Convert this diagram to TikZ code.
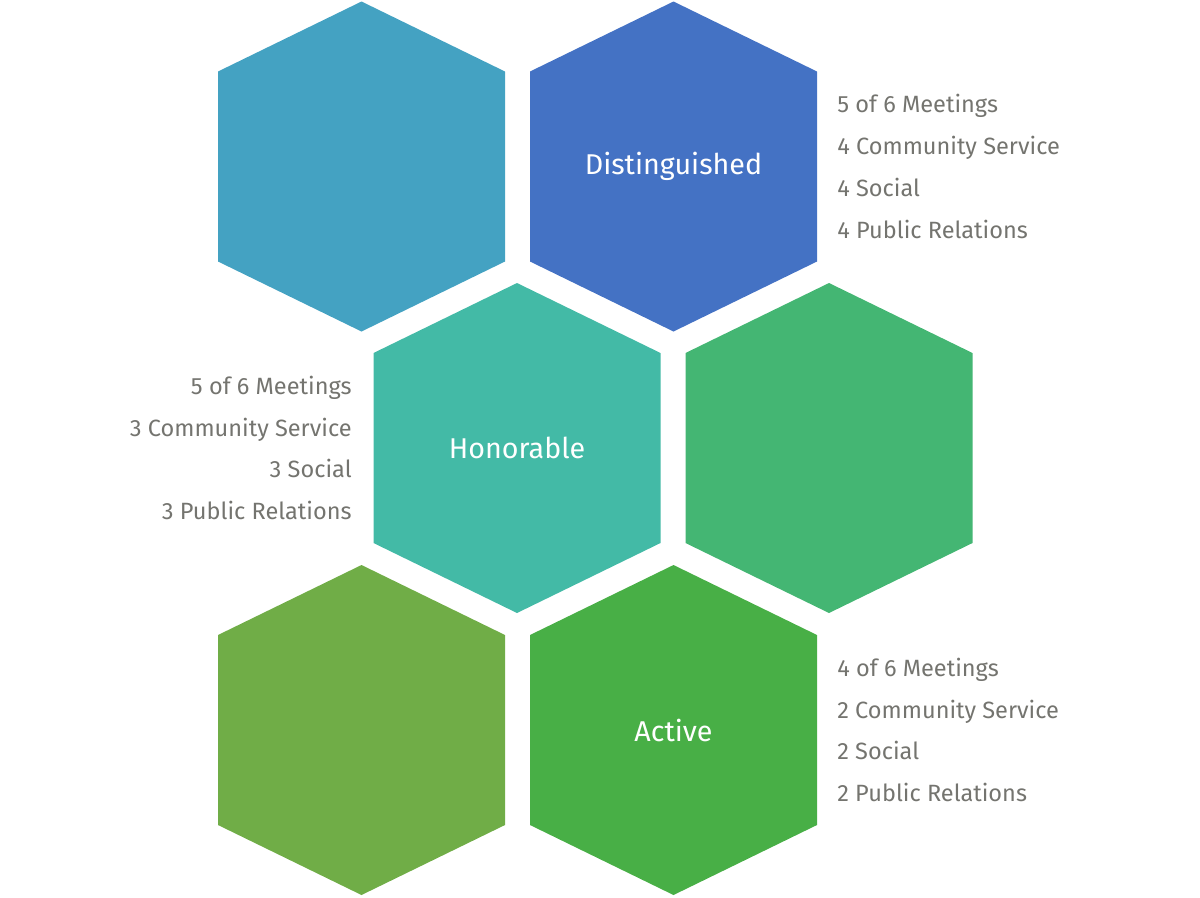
\documentclass[tikz,border=0pt]{standalone}
\usepackage{fontspec}
\setmainfont{Fira Sans}
\usetikzlibrary{calc}
\definecolor{hexteal}{HTML}{44A2C2}
\definecolor{hexblue}{HTML}{4472C4}
\definecolor{hexmint}{HTML}{43BAA6}
\definecolor{hexjade}{HTML}{44B673}
\definecolor{hexolive}{HTML}{70AD47}
\definecolor{hexgreen}{HTML}{48AF46}
\definecolor{reqgray}{HTML}{74746F}
\tikzset{
  rank/.style={text=white,font=\fontsize{16.3}{20}\selectfont},
  req/.style={text=reqgray,font=\fontsize{13.4}{23.8}\selectfont,inner sep=0pt}
}

\begin{document}
\begin{tikzpicture}[x=0.02cm,y=-0.02cm]
\useasboundingbox (0,0) rectangle (1200,897);
\foreach \n/\cx/\cy/\col in {tl/361.5/166.5/hexteal,tr/673.5/166.5/hexblue,
    mid/517/448/hexmint,mr/829/448/hexjade,bl/361.5/730/hexolive,br/673.5/730/hexgreen}{
  \fill[\col] (\cx,\cy-165)--(\cx+143.5,\cy-95)--(\cx+143.5,\cy+95)
    --(\cx,\cy+165)--(\cx-143.5,\cy+95)--(\cx-143.5,\cy-95)--cycle;
  \coordinate (\n) at (\cx,\cy);
}
\node[rank] (dist) at (tr) {Distinguished};
\node[rank] (hon) at (mid) {Honorable};
\node[rank] (act) at (br) {Active};
\node[req,anchor=west,align=left] (distreq) at ($(tr)+(163.5,0)$)
  {5 of 6 Meetings\\4 Community Service\\4 Social\\4 Public Relations};
\node[req,anchor=east,align=right] (honreq) at ($(mid)+(-165,0)$)
  {5 of 6 Meetings\\3 Community Service\\3 Social\\3 Public Relations};
\node[req,anchor=west,align=left] (actreq) at ($(br)+(163.5,0)$)
  {4 of 6 Meetings\\2 Community Service\\2 Social\\2 Public Relations};
\end{tikzpicture}
\end{document}
